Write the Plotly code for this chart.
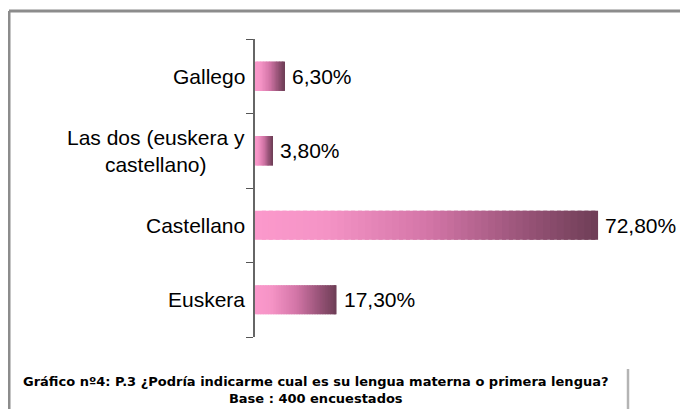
import plotly.graph_objects as go

categories = ["Euskera", "Castellano", "Las dos (euskera y<br>castellano)", "Gallego"]
cat_keys = ["Euskera", "Castellano", "Las dos", "Gallego"]
values = [17.3, 72.8, 3.8, 6.3]
caption_line1 = "Gráfico nº4: P.3 ¿Podría indicarme cual es su lengua materna o primera lengua?"
caption_line2 = "Base : 400 encuestados"

# gradient stops (pink -> dark plum)
stops = [(0.0, (251, 153, 204)), (0.2, (245, 148, 198)), (0.5, (212, 118, 168)),
         (0.8, (150, 82, 118)), (1.0, (110, 62, 86))]

def color_at(t):
    for (t0, c0), (t1, c1) in zip(stops[:-1], stops[1:]):
        if t <= t1:
            f = (t - t0) / (t1 - t0) if t1 > t0 else 0
            c = [round(a + (b - a) * f) for a, b in zip(c0, c1)]
            return f"rgb({c[0]},{c[1]},{c[2]})"
    c = stops[-1][1]
    return f"rgb({c[0]},{c[1]},{c[2]})"

N = 50
fig = go.Figure()
for k in range(N):
    span = min(k + 1.6, N) - k
    fig.add_trace(go.Bar(
        y=cat_keys,
        x=[v * span / N for v in values],
        base=[v * k / N for v in values],
        orientation="h",
        width=0.39,
        marker=dict(color=color_at((k + 0.5) / N), line=dict(width=0)),
        hoverinfo="skip",
        showlegend=False,
    ))

labels = [f"{v:.2f}".replace(".", ",") + "%" for v in values]
for key, v, lab in zip(cat_keys, values, labels):
    fig.add_annotation(
        x=v, y=key, xref="x", yref="y", text=lab, showarrow=False,
        xanchor="left", xshift=5,
        font=dict(family="Liberation Sans, Arial, sans-serif", size=21, color="#000000"),
    )

for key, lab in zip(cat_keys, categories):
    fig.add_annotation(
        x=0, xref="paper", y=key, yref="y", text=lab, showarrow=False,
        xanchor="right", xshift=-8, align="center",
        font=dict(family="Liberation Sans, Arial, sans-serif", size=21, color="#000000"),
    )

# page has an 8px body margin: figure origin sits at screen (8, 8)
W, H = 680, 401
ml, mr, mt, mb = 247, 56, 31, 72
pw, ph = W - ml - mr, H - mt - mb

def px_to_paper(sx, sy):
    fx, fy = sx - 8, sy - 8
    return (fx - ml) / pw, 1 - (fy - mt) / ph

cx, cy = px_to_paper(316, 390)
fig.add_annotation(
    x=cx, y=cy, xref="paper", yref="paper", showarrow=False,
    text=f"<b>{caption_line1}</b><br><b>{caption_line2}</b>",
    align="center", xanchor="center", yanchor="middle",
    font=dict(family="DejaVu Sans, Verdana, sans-serif", size=13, color="#000000"),
)

# frame lines
x0, y0 = px_to_paper(9, 11)
x1, y1 = px_to_paper(700, 420)
fig.add_shape(type="line", xref="paper", yref="paper", x0=x0, y0=y0, x1=x1, y1=y0,
              line=dict(color="#8c8c8c", width=3))
fig.add_shape(type="line", xref="paper", yref="paper", x0=x0, y0=y0, x1=x0, y1=y1,
              line=dict(color="#8c8c8c", width=3))
vx, vy0 = px_to_paper(628, 369)
fig.add_shape(type="line", xref="paper", yref="paper", x0=vx, y0=vy0, x1=vx, y1=y1,
              line=dict(color="#b4b4b4", width=2.5))

fig.update_layout(
    width=W, height=H,
    margin=dict(l=ml, r=mr, t=mt, b=mb),
    paper_bgcolor="white", plot_bgcolor="white",
    barmode="overlay",
    xaxis=dict(range=[0, 80], visible=False, fixedrange=True),
    yaxis=dict(
        type="category", categoryorder="array", categoryarray=cat_keys,
        showticklabels=False, tickson="boundaries", ticks="outside", ticklen=7,
        tickcolor="#555555", showline=True, linecolor="#666666", linewidth=1.5,
        showgrid=False, zeroline=False, fixedrange=True,
    ),
    showlegend=False,
)

fig.write_html("out.html")
